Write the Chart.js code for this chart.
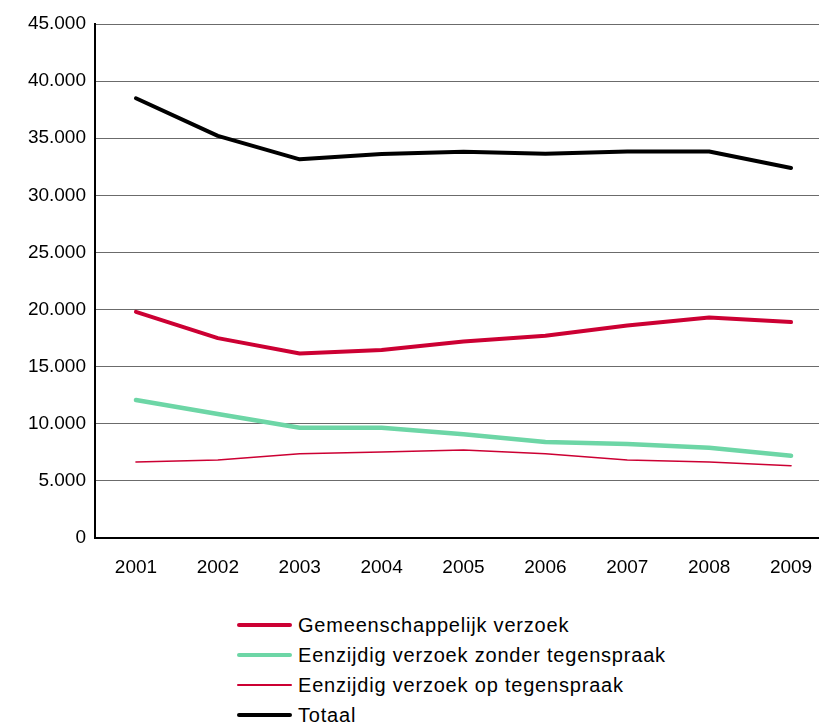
<!DOCTYPE html>
<html>
<head>
<meta charset="utf-8">
<script src="https://cdn.jsdelivr.net/npm/chart.js@4.4.1/dist/chart.umd.min.js"></script>
<style>
  html, body { margin: 0; padding: 0; background: #fff; overflow: hidden; }
  #wrap { position: relative; width: 819px; height: 726px; overflow: hidden; }
  #c { position: absolute; left: 0; top: 0; }
  #legend { position: absolute; left: 237px; top: 610px; font-family: "Liberation Sans", Arial, sans-serif; font-size: 20px; letter-spacing: 0.8px; color: #000; }
  .item { display: flex; align-items: center; height: 30px; }
  .sw { width: 55px; margin-right: 6px; border-radius: 2px; }
</style>
</head>
<body>
<div id="wrap">
  <canvas id="c" width="832" height="600" style="width:832px;height:600px"></canvas>
  <div id="legend"></div>
</div>
<script>
const years = ['2001','2002','2003','2004','2005','2006','2007','2008','2009'];
const gemeenschappelijk = [19800, 17500, 16150, 16450, 17200, 17700, 18600, 19300, 18900];
const zonderTegenspraak = [12080, 10850, 9650, 9650, 9080, 8400, 8230, 7900, 7200];
const opTegenspraak = [6650, 6830, 7380, 7530, 7700, 7380, 6830, 6650, 6330];
const totaal = [38500, 35200, 33150, 33620, 33820, 33650, 33840, 33840, 32400];
const yTicks = [0, 5000, 10000, 15000, 20000, 25000, 30000, 35000, 40000, 45000];

const RED = '#cc0033', GREEN = '#6dd6a6', BLACK = '#000000';
const series = [
  { label: 'Gemeenschappelijk verzoek', data: gemeenschappelijk, color: RED, width: 4 },
  { label: 'Eenzijdig verzoek zonder tegenspraak', data: zonderTegenspraak, color: GREEN, width: 4.5 },
  { label: 'Eenzijdig verzoek op tegenspraak', data: opTegenspraak, color: RED, width: 1.5 },
  { label: 'Totaal', data: totaal, color: BLACK, width: 4 }
];

const font = { family: '"Liberation Sans", Arial, sans-serif', size: 19 };

new Chart(document.getElementById('c'), {
  type: 'line',
  data: {
    labels: years,
    datasets: series.map(s => ({
      label: s.label, data: s.data, borderColor: s.color, backgroundColor: s.color,
      borderWidth: s.width, pointRadius: 0, tension: 0, fill: false,
      borderCapStyle: 'round', borderJoinStyle: 'round'
    }))
  },
  options: {
    responsive: false, animation: false,
    layout: { padding: { top: 24, bottom: 12, left: 0, right: 0 } },
    plugins: { legend: { display: false }, tooltip: { enabled: false } },
    scales: {
      x: {
        offset: true,
        grid: { display: false, drawTicks: false },
        border: { color: '#000', width: 2 },
        ticks: { color: '#000', font: font, padding: 18, maxRotation: 0 },
        afterFit: s => { s.height = 50; }
      },
      y: {
        min: 0, max: 45000,
        afterBuildTicks: s => { s.ticks = yTicks.map(v => ({ value: v })); },
        grid: { color: '#6b6b6b', lineWidth: 1, drawTicks: false },
        border: { color: '#000', width: 2 },
        ticks: {
          color: '#000', font: font, padding: 9,
          callback: v => v === 0 ? '0' : v.toLocaleString('de-DE')
        },
        afterFit: s => { s.width = 95; }
      }
    }
  }
});

const lg = document.getElementById('legend');
series.forEach(s => {
  const it = document.createElement('div'); it.className = 'item';
  const sw = document.createElement('div'); sw.className = 'sw';
  sw.style.height = (s.width < 2 ? 2 : 4) + 'px'; sw.style.background = s.color;
  const t = document.createElement('span'); t.textContent = s.label;
  it.appendChild(sw); it.appendChild(t); lg.appendChild(it);
});
</script>
</body>
</html>
